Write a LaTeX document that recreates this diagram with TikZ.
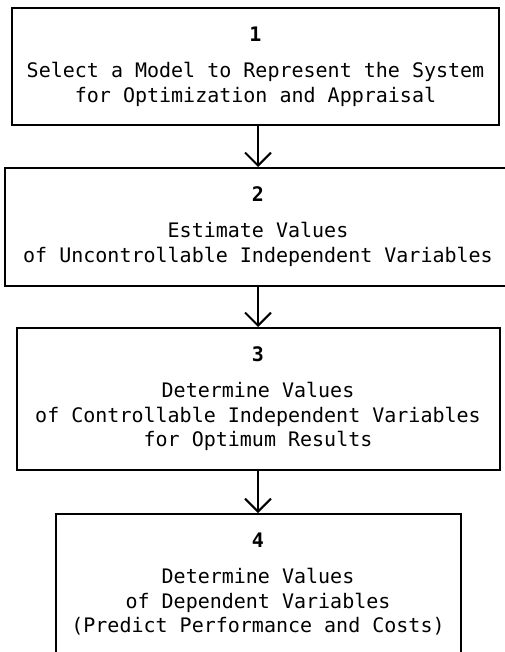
\documentclass[tikz,border=0pt]{standalone}
\usepackage{fontspec}
\setmonofont{DejaVu Sans Mono}
\usetikzlibrary{arrows.meta}

\begin{document}
\begin{tikzpicture}[
    x=1pt, y=-1pt,
    stage/.style={rectangle, draw=black, line width=2pt, inner xsep=0pt, inner ysep=19pt, anchor=north, align=center, font=\ttfamily\fontsize{20}{24.5}\selectfont},
    arrow/.style={line width=2pt, -{Straight Barb[length=13pt, width=26pt]}}
]
\useasboundingbox (0,0) rectangle (505,652);

% Nodes
\node (b1) [stage, minimum width=487pt] at (255.5,7) {\textbf{1}\\[11.5pt]Select a Model to Represent the System\\for Optimization and Appraisal};

\node (b2) [stage, minimum width=506pt] at (258,167) {\textbf{2}\\[11.5pt]Estimate Values\\of Uncontrollable Independent Variables};

\node (b3) [stage, minimum width=483pt] at (258,327) {\textbf{3}\\[11.5pt]Determine Values\\of Controllable Independent Variables\\for Optimum Results};

\node (b4) [stage, minimum width=405pt] at (258,513) {\textbf{4}\\[11.5pt]Determine Values\\of Dependent Variables\\(Predict Performance and Costs)};

% Arrows
\draw [arrow] (b1.south -| b2) -- (b2);
\draw [arrow] (b2) -- (b3);
\draw [arrow] (b3) -- (b4);

\end{tikzpicture}
\end{document}
